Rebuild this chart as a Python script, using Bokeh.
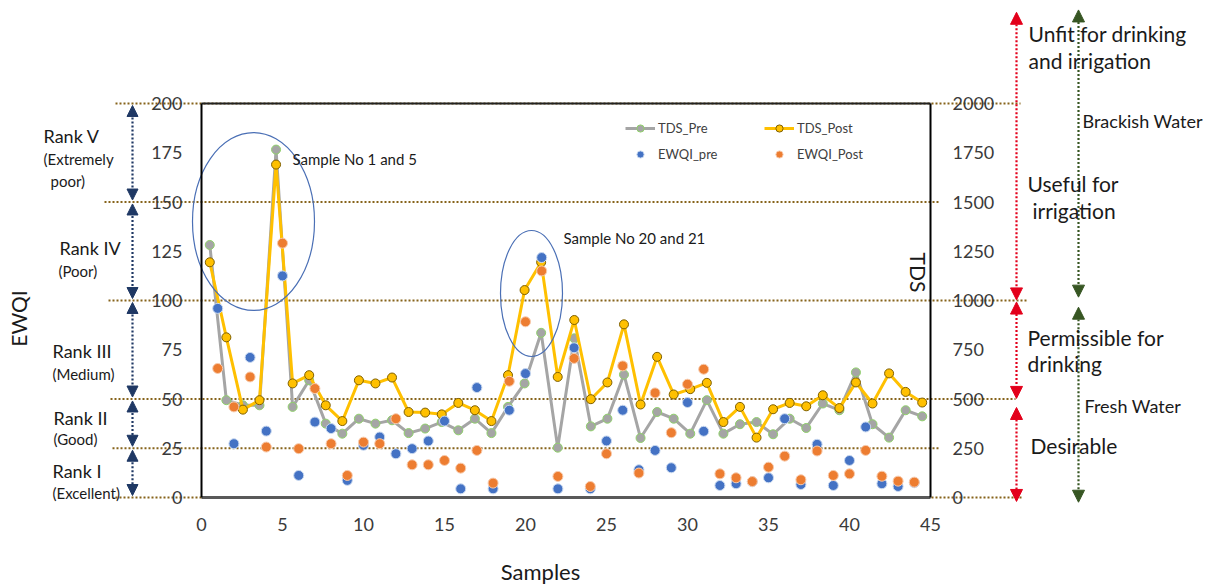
import math
from bokeh.plotting import figure
from bokeh.models import (Range1d, LinearAxis, FixedTicker, Label, Arrow, NormalHead,
                          Legend, LegendItem)
from bokeh.embed import file_html
from bokeh.resources import INLINE

# ---------------- data ----------------
samples = list(range(1, 45))
tds_pre = [1282, 494, 468, 468, 1766, 460, 595, 375, 324, 400, 375, 392, 327, 350, 383,
           341, 400, 327, 460, 579, 836, 253, 808, 361, 400, 624, 302, 434, 400, 324,
           494, 324, 372, 383, 321, 400, 353, 477, 443, 635, 372, 304, 443, 412]
tds_post = [1194, 813, 446, 494, 1690, 579, 621, 468, 388, 595, 579, 609, 434, 431, 422,
            480, 443, 388, 621, 1053, 1194, 612, 901, 499, 584, 879, 472, 714, 523, 550,
            582, 383, 460, 304, 448, 480, 463, 519, 454, 584, 477, 630, 536, 482]
ewqi_pre = [96, 27.3, 71.1, 33.7, 112.5, 11.2, 38.3, 35, 8.7, 26.5, 30.7, 22.2, 24.8, 28.7, 38.8,
            4.4, 55.8, 4.4, 44.3, 62.9, 121.8, 4.4, 76, 4.4, 28.7, 44.3, 14.1, 23.9, 15.1, 48.2,
            33.6, 6.1, 7, 8, 10, 40, 6.6, 27, 6.1, 18.8, 35.8, 7, 5.6, 7.5]
ewqi_post = [65.5, 46, 61.2, 25.6, 129.1, 24.8, 55.3, 27.3, 11.2, 28.1, 27.3, 40, 16.6, 16.6, 18.8,
             14.9, 23.9, 7.3, 59, 89.2, 115, 10.7, 70.6, 5.6, 22.2, 66.8, 12.4, 53.1, 32.9, 57.5,
             65.1, 12, 10, 8.1, 15.4, 21, 9, 23.6, 11.2, 12, 23.9, 10.8, 8.3, 7.8]
ewqi_ticks = [0, 25, 50, 75, 100, 125, 150, 175, 200]
tds_ticks = [0, 250, 500, 750, 1000, 1250, 1500, 1750, 2000]
sample_ticks = [0, 5, 10, 15, 20, 25, 30, 35, 40, 45]
rank_limits = [200, 150, 100, 50, 25, 0]
red_bands = [(2463, 1003), (992, 503), (457, -20)]
green_bands = [(2475, 1017), (966, -24)]

# ---------------- layout constants (pixels) ----------------
W, H = 1215, 588
BL, BR, BT, BB = 201, 930, 103, 497
XMAX, EMAX, TMAX, N = 45, 200, 2000, len(samples)

ux = XMAX / (BR - BL)
uy = EMAX / (BB - BT)
uc = N / (BR - BL)
x_start, x_end = -BL * ux, XMAX + (W - BR) * ux
y_start, y_end = -(H - BB) * uy, EMAX + BT * uy
c_start, c_end = 0.5 - BL * uc, N + 0.5 + (W - BR) * uc


def X(px):
    return x_start + px * ux


def Y(py):
    return y_end - py * uy


FONT = "Lato"

p = figure(width=W, height=H, x_range=Range1d(x_start, x_end), y_range=Range1d(y_start, y_end),
           output_backend="svg", toolbar_location=None, min_border=0, title=None,
           x_axis_type=None, y_axis_type=None)
p.grid.visible = False
p.outline_line_color = None
p.background_fill_color = "white"
p.extra_y_ranges = {"tds": Range1d(y_start * 10, y_end * 10)}
p.extra_x_ranges = {"cat": Range1d(c_start, c_end)}


def style_axis(ax, size="18px"):
    ax.major_tick_line_color = None
    ax.minor_tick_line_color = None
    ax.major_tick_in = 0
    ax.major_tick_out = 0
    ax.minor_tick_in = 0
    ax.minor_tick_out = 0
    ax.major_label_text_font = FONT
    ax.major_label_text_font_size = size
    ax.major_label_text_color = "#3a3a3a"


left = LinearAxis(fixed_location=0, bounds=(0, EMAX), ticker=FixedTicker(ticks=ewqi_ticks))
style_axis(left)
left.axis_line_color = "black"
left.axis_line_width = 2
left.major_label_standoff = 19
p.add_layout(left, "left")

right = LinearAxis(y_range_name="tds", fixed_location=XMAX, bounds=(0, TMAX),
                   ticker=FixedTicker(ticks=tds_ticks))
style_axis(right)
right.axis_line_color = "black"
right.axis_line_width = 2
right.major_label_standoff = 22
p.add_layout(right, "right")

bottom = LinearAxis(fixed_location=0, bounds=(0, XMAX), ticker=FixedTicker(ticks=sample_ticks))
style_axis(bottom)
bottom.axis_line_color = "#595959"
bottom.axis_line_width = 3
bottom.major_label_standoff = 20
p.add_layout(bottom, "below")

top = LinearAxis(fixed_location=EMAX, bounds=(0, XMAX), ticker=FixedTicker(ticks=[]))
style_axis(top)
top.axis_line_color = "#222222"
top.axis_line_width = 2
p.add_layout(top, "above")

# ---------------- rank level dotted lines ----------------
level_left_px = [115, 104, 108, 110, 112, 115]
level_right_px = [1020, 938, 1028, 1015, 938, 1022]
p.segment(x0=[X(v) for v in level_left_px], y0=rank_limits,
          x1=[X(v) for v in level_right_px], y1=rank_limits,
          line_color="#86631a", line_width=2.2, line_dash="2 2", level="underlay")

# ---------------- data ----------------
l_pre = p.line(samples, tds_pre, x_range_name="cat", y_range_name="tds",
               line_color="#a5a5a5", line_width=3)
s_pre = p.scatter(samples, tds_pre, x_range_name="cat", y_range_name="tds", size=9,
                  fill_color="#a5a5a5", line_color="#8fd16a", line_width=1)
l_post = p.line(samples, tds_post, x_range_name="cat", y_range_name="tds",
                line_color="#ffc000", line_width=3)
s_post = p.scatter(samples, tds_post, x_range_name="cat", y_range_name="tds", size=9,
                   fill_color="#ffc000", line_color="#7f6000", line_width=1)
e_pre = p.scatter(samples, ewqi_pre, size=10, fill_color="#4472c4", line_color="#c9d9f0",
                  line_width=1)
e_post = p.scatter(samples, ewqi_post, size=10, fill_color="#ed7d31", line_color="#f8cbad",
                   line_width=1)

# ---------------- highlight ellipses ----------------
p.ellipse(x=[X(253), X(531)], y=[Y(221), Y(293)], width=[122, 62], height=[178, 126],
          width_units="screen", height_units="screen", fill_color=None,
          line_color="#4a6fb5", line_width=1.2)

# ---------------- legend ----------------
legend = Legend(items=[LegendItem(label="TDS_Pre", renderers=[l_pre, s_pre]),
                       LegendItem(label="TDS_Post", renderers=[l_post, s_post]),
                       LegendItem(label="EWQI_pre", renderers=[e_pre]),
                       LegendItem(label="EWQI_Post", renderers=[e_post])],
                orientation="horizontal", ncols=2, location=(625, H - 163),
                border_line_color=None, background_fill_alpha=0,
                label_text_font=FONT, label_text_font_size="13px", label_text_color="#404040",
                glyph_width=30, glyph_height=18, label_height=18, label_standoff=3,
                label_width=98, spacing=8, padding=0, margin=0)
p.add_layout(legend)

# ---------------- arrows ----------------
navy = "#1f3864"
for hi, lo in zip(rank_limits[:-1], rank_limits[1:]):
    p.add_layout(Arrow(x_start=X(132), y_start=hi - 1, x_end=X(132), y_end=lo + 1,
                       start=NormalHead(size=11, fill_color=navy, line_color=navy),
                       end=NormalHead(size=11, fill_color=navy, line_color=navy),
                       line_color=navy, line_width=2.2, line_dash="2 2"))
red = "#e3001b"
for hi, lo in red_bands:
    p.add_layout(Arrow(x_start=X(1016), y_start=hi, x_end=X(1016), y_end=lo, y_range_name="tds",
                       start=NormalHead(size=12, fill_color=red, line_color=red),
                       end=NormalHead(size=12, fill_color=red, line_color=red),
                       line_color=red, line_width=2.2, line_dash="2 2"))
green = "#375623"
for hi, lo in green_bands:
    p.add_layout(Arrow(x_start=X(1078), y_start=hi, x_end=X(1078), y_end=lo, y_range_name="tds",
                       start=NormalHead(size=12, fill_color=green, line_color=green),
                       end=NormalHead(size=12, fill_color=green, line_color=green),
                       line_color=green, line_width=2.2, line_dash="2 2"))

# ---------------- texts ----------------
def label(text, px, py, size, align="left", angle=0.0, color="#1a1a1a"):
    p.add_layout(Label(x=X(px), y=Y(py), text=text, text_font=FONT, text_font_size=size,
                       text_align=align, text_baseline="middle", angle=angle,
                       text_color=color))


label("EWQI", 18, 318, "21px", align="center", angle=math.pi / 2)
label("TDS", 918, 272, "21px", align="center", angle=-math.pi / 2)
label("Samples", 540, 571, "22px", align="center")

rank_texts = [("Rank V", 43, 135, "18px"), ("(Extremely", 43, 158, "15px"), ("poor)", 50, 180, "15px"),
              ("Rank IV", 59, 247, "18px"), ("(Poor)", 58, 270, "15px"),
              ("Rank III", 52, 350, "18px"), ("(Medium)", 52, 373, "15px"),
              ("Rank II", 53, 417, "18px"), ("(Good)", 53, 438, "15px"),
              ("Rank I", 52, 470, "18px"), ("(Excellent)", 52, 492, "15px")]
for t, px, py, s in rank_texts:
    label(t, px, py, s)

right_texts = [("Unfit for drinking", 1028, 33, "21px"), ("and irrigation", 1028, 60, "21px"),
               ("Brackish Water", 1082, 120, "18px"),
               ("Useful  for", 1027, 183, "21px"), ("irrigation", 1032, 210, "21px"),
               ("Permissible  for", 1027, 337, "21px"), ("drinking", 1027, 363, "21px"),
               ("Fresh Water", 1084, 405, "18px"), ("Desirable", 1030, 445, "21px")]
for t, px, py, s in right_texts:
    label(t, px, py, s)

label("Sample No 1 and 5", 292, 158, "15px")
label("Sample No 20 and 21", 563, 237, "15px")

open("out.html", "w").write(file_html(p, INLINE))
